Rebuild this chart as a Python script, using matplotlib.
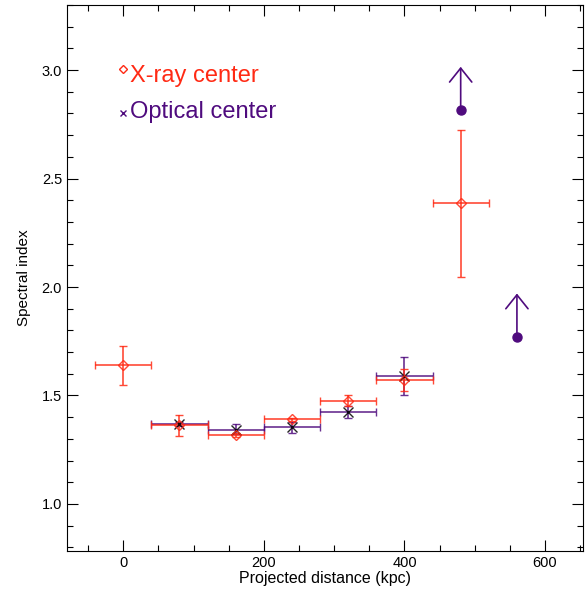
import numpy as np
import matplotlib
matplotlib.use("Agg")
import matplotlib.pyplot as plt
from matplotlib.ticker import MultipleLocator

plt.rcParams["font.family"] = ["Liberation Sans", "DejaVu Sans"]

# X-ray center profile
xray_x = [0, 80, 160, 240, 320, 400, 480]
xray_y = [1.64, 1.365, 1.318, 1.39, 1.476, 1.571, 2.386]
xray_lo = [0.093, 0.052, 0.008, 0.008, 0.026, 0.051, 0.341]
xray_hi = [0.09, 0.046, 0.008, 0.008, 0.024, 0.051, 0.338]
xray_xerr = [40, 40, 40, 40, 40, 40, 40]

# optical center profile
opt_x = [80, 160, 240, 320, 400]
opt_y = [1.37, 1.341, 1.356, 1.424, 1.59]
opt_lo = [0.01, 0.02, 0.029, 0.03, 0.088]
opt_hi = [0.01, 0.026, 0.022, 0.026, 0.086]
opt_xerr = [40, 40, 40, 40, 40]

# lower limits (optical)
lim_x = [480, 560]
lim_y = [2.816, 1.768]
lim_top = [3.015, 1.97]

red = "#ff2a14"
purple = "#4f0b7e"

fig = plt.figure(figsize=(5.86, 5.93), dpi=100)
ax = fig.add_axes([0.1143, 0.0708, 0.8806, 0.9208])

ax.errorbar(opt_x, opt_y, yerr=[opt_lo, opt_hi], xerr=opt_xerr, fmt="x",
            color=purple, mec="black", ms=7, mew=1.0, elinewidth=1.2,
            capsize=3, capthick=1.2, alpha=0.85)
ax.errorbar(xray_x, xray_y, yerr=[xray_lo, xray_hi], xerr=xray_xerr, fmt="D",
            color=red, mfc="none", ms=5, mew=1.0, elinewidth=1.2,
            capsize=3, capthick=1.2, alpha=0.85)

ax.plot(lim_x, lim_y, "o", color=purple, ms=6.5, ls="none")
for x, y0, y1 in zip(lim_x, lim_y, lim_top):
    ax.annotate("", xy=(x, y1), xytext=(x, y0),
                arrowprops=dict(arrowstyle="->,head_length=0.5,head_width=0.4",
                                color=purple, lw=1.2, mutation_scale=20,
                                shrinkA=0, shrinkB=0))

# legend as text
ax.plot([0.0], [3.005], "D", color=red, mfc="none", ms=4.5, mew=1.0)
ax.text(10, 2.946, "X-ray center", color=red, fontsize=17, va="baseline")
ax.plot([0.0], [2.80], "x", color=purple, ms=5, mew=1.0)
ax.text(10, 2.777, "Optical center", color=purple, fontsize=17, va="baseline")

ax.set_xlim(-80, 654)
ax.set_ylim(0.783, 3.3)
ax.xaxis.set_major_locator(MultipleLocator(200))
ax.xaxis.set_minor_locator(MultipleLocator(50))
ax.yaxis.set_major_locator(MultipleLocator(0.5))
ax.yaxis.set_minor_locator(MultipleLocator(0.1))
ax.yaxis.set_major_formatter(matplotlib.ticker.FormatStrFormatter("%.1f"))
ax.tick_params(which="both", direction="in", top=True, right=True,
               labelsize=10.5, width=0.8)
ax.tick_params(which="major", length=8)
ax.tick_params(which="minor", length=4)
for s in ax.spines.values():
    s.set_linewidth(0.8)

ax.set_xlabel("Projected distance (kpc)", fontsize=11.5, labelpad=1)
ax.set_ylabel("Spectral index", fontsize=11, labelpad=8)

fig.savefig("out.png", dpi=100)
